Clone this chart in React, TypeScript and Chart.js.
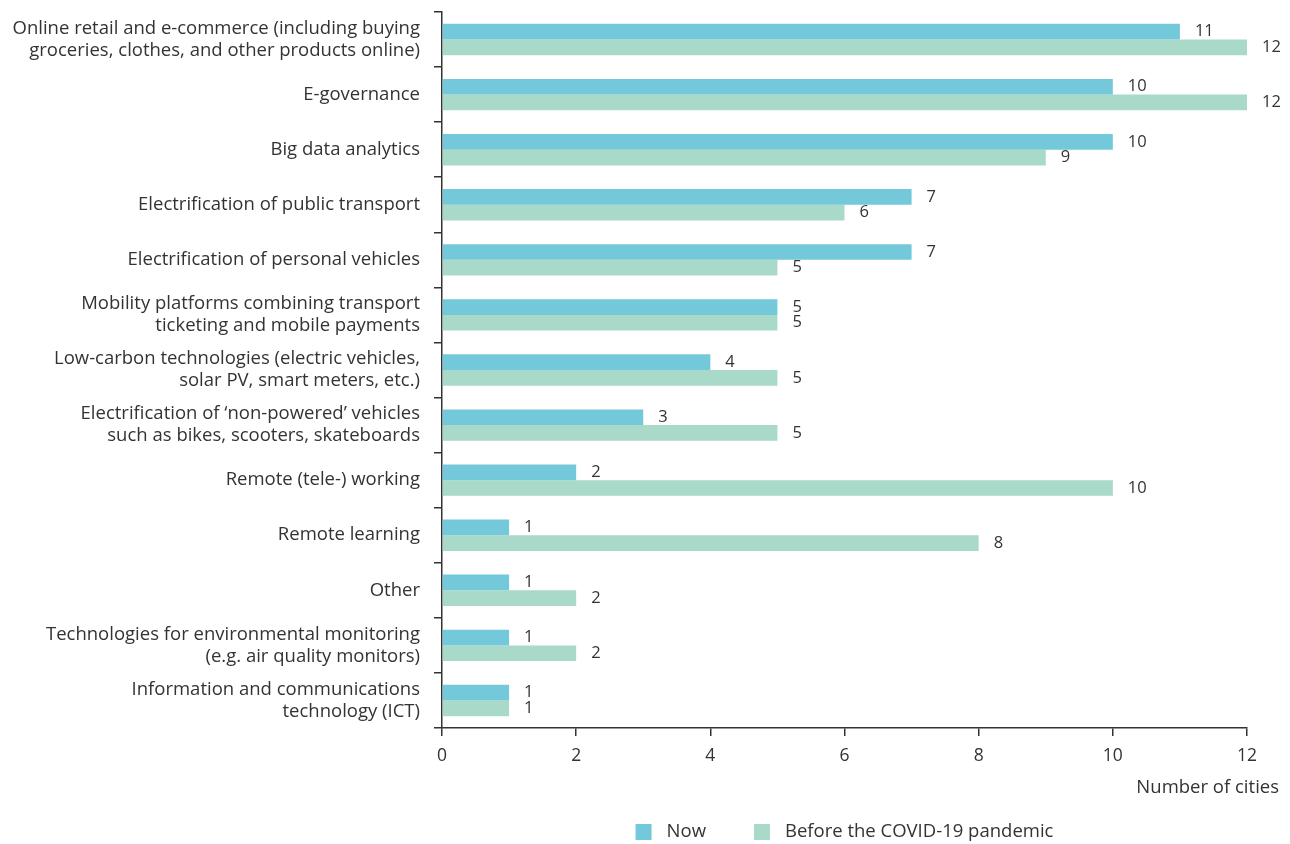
import React, { useEffect, useRef } from "react";
import { Chart, registerables } from "chart.js";

Chart.register(...registerables);

const categories: (string | string[])[] = [
  ["Online retail and e-commerce (including buying", "groceries, clothes, and other products online)"],
  "E-governance",
  "Big data analytics",
  "Electrification of public transport",
  "Electrification of personal vehicles",
  ["Mobility platforms combining transport", "ticketing and mobile payments"],
  ["Low-carbon technologies (electric vehicles,", "solar PV, smart meters, etc.)"],
  ["Electrification of \u2018non-powered\u2019 vehicles", "such as bikes, scooters, skateboards"],
  "Remote (tele-) working",
  "Remote learning",
  "Other",
  ["Technologies for environmental monitoring", "(e.g. air quality monitors)"],
  ["Information and communications", "technology (ICT)"],
];

const nowValues = [11, 10, 10, 7, 7, 5, 4, 3, 2, 1, 1, 1, 1];
const beforeValues = [12, 12, 9, 6, 5, 5, 5, 5, 10, 8, 2, 2, 1];

const seriesLabels = ["Now", "Before the COVID-19 pandemic"];
const seriesColors = ["#73C9DA", "#A9D9C8"];
const xAxisTitle = "Number of cities";

const FONT = "'Open Sans', 'Noto Sans', sans-serif";
const TEXT = "#333333";

const valueLabels = {
  id: "valueLabels",
  afterDatasetsDraw(chart: any) {
    const ctx = chart.ctx;
    ctx.save();
    ctx.font = `16.5px ${FONT}`;
    ctx.fillStyle = TEXT;
    ctx.textAlign = "left";
    ctx.textBaseline = "middle";
    chart.data.datasets.forEach((ds: any, i: number) => {
      const meta = chart.getDatasetMeta(i);
      meta.data.forEach((el: any, j: number) => {
        ctx.fillText(String(ds.data[j]), el.x + 15, el.y);
      });
    });
    ctx.restore();
  },
};

const extras = {
  id: "extras",
  afterDraw(chart: any) {
    const ctx = chart.ctx;
    const area = chart.chartArea;
    ctx.save();
    // axis title
    ctx.font = `18.5px ${FONT}`;
    ctx.fillStyle = TEXT;
    ctx.textAlign = "right";
    ctx.textBaseline = "middle";
    ctx.fillText(xAxisTitle, area.right + 32, 788);

    // legend
    const box = 16;
    const gap = 15;
    const spacing = 48;
    const items = chart.data.datasets.map((ds: any) => ({
      label: ds.label,
      color: ds.backgroundColor,
      w: ctx.measureText(ds.label).width,
    }));
    let total = 0;
    items.forEach((it: any, i: number) => {
      total += box + gap + it.w + (i > 0 ? spacing : 0);
    });
    let x = (area.left + area.right) / 2 - total / 2;
    const cy = 832;
    ctx.textAlign = "left";
    items.forEach((it: any) => {
      ctx.fillStyle = it.color;
      ctx.fillRect(x, cy - box / 2, box, box);
      ctx.fillStyle = TEXT;
      ctx.fillText(it.label, x + box + gap, cy);
      x += box + gap + it.w + spacing;
    });
    ctx.restore();
  },
};

export default function App() {
  const ref = useRef<HTMLCanvasElement | null>(null);

  useEffect(() => {
    if (!ref.current) return;
    const chart = new Chart(ref.current, {
      type: "bar",
      data: {
        labels: categories,
        datasets: [
          {
            label: seriesLabels[0],
            data: nowValues,
            backgroundColor: seriesColors[0],
            categoryPercentage: 0.57,
            barPercentage: 1,
          },
          {
            label: seriesLabels[1],
            data: beforeValues,
            backgroundColor: seriesColors[1],
            categoryPercentage: 0.57,
            barPercentage: 1,
          },
        ],
      },
      options: {
        indexAxis: "y",
        animation: false,
        responsive: true,
        maintainAspectRatio: false,
        layout: { padding: { top: 12, right: 43, left: 0, bottom: 0 } },
        plugins: {
          legend: { display: false },
          tooltip: { enabled: false },
        },
        scales: {
          x: {
            min: 0,
            max: 12,
            ticks: {
              stepSize: 2,
              color: TEXT,
              font: { family: FONT, size: 17.5 },
              padding: 10,
            },
            grid: {
              drawOnChartArea: false,
              drawTicks: true,
              tickLength: 8,
              color: TEXT,
              lineWidth: 1.5,
            },
            border: { display: true, color: TEXT, width: 1.5 },
            afterFit(scale: any) {
              scale.height = 116;
            },
          },
          y: {
            offset: true,
            ticks: {
              color: TEXT,
              font: { family: FONT, size: 18.5, lineHeight: 1.19 },
              padding: 14,
              autoSkip: false,
            },
            grid: {
              offset: true,
              drawOnChartArea: false,
              drawTicks: true,
              tickLength: 8,
              color: TEXT,
              lineWidth: 1.5,
            },
            border: { display: true, color: TEXT, width: 1.5 },
            afterFit(scale: any) {
              scale.width = 442;
              scale.paddingTop = 0;
              scale.paddingBottom = 0;
            },
          },
        },
      },
      plugins: [valueLabels, extras],
    } as any);
    return () => chart.destroy();
  }, []);

  return (
    <div style={{ position: "absolute", left: 0, top: 0, width: 1290, height: 844 }}>
      <canvas ref={ref} />
    </div>
  );
}
